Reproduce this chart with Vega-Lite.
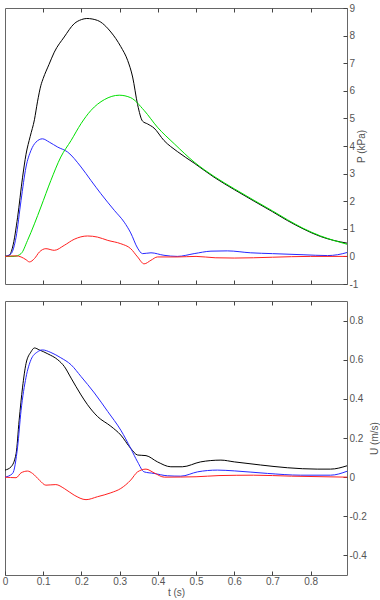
{
  "$schema": "https://vega.github.io/schema/vega-lite/v6.json",
  "padding": {"left": 1, "top": 2, "right": 0, "bottom": 0},
  "spacing": 10,
  "background": "white",
  "datasets": {
    "pressure": [
      {"t": 0, "P": 0, "s": "total"}, {"t": 0.011, "P": 0.04, "s": "total"}, {"t": 0.02, "P": 0.34, "s": "total"}, {"t": 0.033, "P": 1.42, "s": "total"}, {"t": 0.046, "P": 2.87, "s": "total"}, {"t": 0.055, "P": 3.7, "s": "total"}, {"t": 0.066, "P": 4.35, "s": "total"}, {"t": 0.077, "P": 4.95, "s": "total"}, {"t": 0.085, "P": 5.6, "s": "total"}, {"t": 0.094, "P": 6.2, "s": "total"}, {"t": 0.1, "P": 6.45, "s": "total"}, {"t": 0.115, "P": 6.95, "s": "total"}, {"t": 0.129, "P": 7.4, "s": "total"}, {"t": 0.155, "P": 7.95, "s": "total"}, {"t": 0.181, "P": 8.43, "s": "total"}, {"t": 0.2, "P": 8.58, "s": "total"}, {"t": 0.214, "P": 8.62, "s": "total"}, {"t": 0.242, "P": 8.55, "s": "total"}, {"t": 0.277, "P": 8.13, "s": "total"}, {"t": 0.303, "P": 7.6, "s": "total"}, {"t": 0.321, "P": 7.1, "s": "total"}, {"t": 0.334, "P": 6.5, "s": "total"}, {"t": 0.347, "P": 5.5, "s": "total"}, {"t": 0.36, "P": 4.9, "s": "total"}, {"t": 0.373, "P": 4.8, "s": "total"}, {"t": 0.39, "P": 4.65, "s": "total"}, {"t": 0.416, "P": 4.2, "s": "total"}, {"t": 0.451, "P": 3.8, "s": "total"}, {"t": 0.495, "P": 3.38, "s": "total"}, {"t": 0.547, "P": 2.87, "s": "total"}, {"t": 0.6, "P": 2.42, "s": "total"}, {"t": 0.652, "P": 2.0, "s": "total"}, {"t": 0.7, "P": 1.62, "s": "total"}, {"t": 0.739, "P": 1.3, "s": "total"}, {"t": 0.78, "P": 1.0, "s": "total"}, {"t": 0.826, "P": 0.72, "s": "total"}, {"t": 0.86, "P": 0.58, "s": "total"}, {"t": 0.895, "P": 0.48, "s": "total"},

      {"t": 0, "P": 0, "s": "forward"}, {"t": 0.016, "P": 0.1, "s": "forward"}, {"t": 0.029, "P": 0.7, "s": "forward"}, {"t": 0.042, "P": 2.03, "s": "forward"}, {"t": 0.055, "P": 3.24, "s": "forward"}, {"t": 0.068, "P": 3.84, "s": "forward"}, {"t": 0.081, "P": 4.14, "s": "forward"}, {"t": 0.098, "P": 4.26, "s": "forward"}, {"t": 0.116, "P": 4.14, "s": "forward"}, {"t": 0.138, "P": 3.96, "s": "forward"}, {"t": 0.164, "P": 3.78, "s": "forward"}, {"t": 0.199, "P": 3.24, "s": "forward"}, {"t": 0.225, "P": 2.75, "s": "forward"}, {"t": 0.251, "P": 2.27, "s": "forward"}, {"t": 0.286, "P": 1.67, "s": "forward"}, {"t": 0.312, "P": 1.24, "s": "forward"}, {"t": 0.329, "P": 0.85, "s": "forward"}, {"t": 0.347, "P": 0.3, "s": "forward"}, {"t": 0.36, "P": 0.1, "s": "forward"}, {"t": 0.382, "P": 0.13, "s": "forward"}, {"t": 0.416, "P": 0.04, "s": "forward"}, {"t": 0.451, "P": 0.0, "s": "forward"}, {"t": 0.495, "P": 0.1, "s": "forward"}, {"t": 0.539, "P": 0.19, "s": "forward"}, {"t": 0.582, "P": 0.2, "s": "forward"}, {"t": 0.643, "P": 0.13, "s": "forward"}, {"t": 0.7, "P": 0.1, "s": "forward"}, {"t": 0.78, "P": 0.06, "s": "forward"}, {"t": 0.844, "P": 0.03, "s": "forward"}, {"t": 0.87, "P": 0.06, "s": "forward"}, {"t": 0.895, "P": 0.14, "s": "forward"},

      {"t": 0, "P": 0, "s": "reservoir"}, {"t": 0.024, "P": 0, "s": "reservoir"}, {"t": 0.042, "P": 0.1, "s": "reservoir"}, {"t": 0.059, "P": 0.58, "s": "reservoir"}, {"t": 0.077, "P": 1.18, "s": "reservoir"}, {"t": 0.094, "P": 1.79, "s": "reservoir"}, {"t": 0.12, "P": 2.75, "s": "reservoir"}, {"t": 0.146, "P": 3.6, "s": "reservoir"}, {"t": 0.173, "P": 4.2, "s": "reservoir"}, {"t": 0.199, "P": 4.81, "s": "reservoir"}, {"t": 0.225, "P": 5.29, "s": "reservoir"}, {"t": 0.26, "P": 5.68, "s": "reservoir"}, {"t": 0.299, "P": 5.84, "s": "reservoir"}, {"t": 0.329, "P": 5.75, "s": "reservoir"}, {"t": 0.364, "P": 5.29, "s": "reservoir"}, {"t": 0.399, "P": 4.68, "s": "reservoir"}, {"t": 0.443, "P": 4.08, "s": "reservoir"}, {"t": 0.495, "P": 3.42, "s": "reservoir"}, {"t": 0.547, "P": 2.9, "s": "reservoir"}, {"t": 0.6, "P": 2.45, "s": "reservoir"}, {"t": 0.652, "P": 2.03, "s": "reservoir"}, {"t": 0.7, "P": 1.65, "s": "reservoir"}, {"t": 0.739, "P": 1.33, "s": "reservoir"}, {"t": 0.78, "P": 1.02, "s": "reservoir"}, {"t": 0.826, "P": 0.74, "s": "reservoir"}, {"t": 0.86, "P": 0.58, "s": "reservoir"}, {"t": 0.895, "P": 0.44, "s": "reservoir"},

      {"t": 0, "P": 0, "s": "backward"}, {"t": 0.029, "P": 0.02, "s": "backward"}, {"t": 0.042, "P": -0.02, "s": "backward"}, {"t": 0.055, "P": -0.12, "s": "backward"}, {"t": 0.064, "P": -0.2, "s": "backward"}, {"t": 0.077, "P": -0.08, "s": "backward"}, {"t": 0.09, "P": 0.16, "s": "backward"}, {"t": 0.107, "P": 0.28, "s": "backward"}, {"t": 0.129, "P": 0.22, "s": "backward"}, {"t": 0.155, "P": 0.4, "s": "backward"}, {"t": 0.181, "P": 0.62, "s": "backward"}, {"t": 0.216, "P": 0.74, "s": "backward"}, {"t": 0.242, "P": 0.7, "s": "backward"}, {"t": 0.269, "P": 0.58, "s": "backward"}, {"t": 0.303, "P": 0.46, "s": "backward"}, {"t": 0.329, "P": 0.28, "s": "backward"}, {"t": 0.347, "P": -0.02, "s": "backward"}, {"t": 0.364, "P": -0.27, "s": "backward"}, {"t": 0.382, "P": -0.14, "s": "backward"}, {"t": 0.399, "P": -0.02, "s": "backward"}, {"t": 0.45, "P": -0.02, "s": "backward"}, {"t": 0.5, "P": 0.0, "s": "backward"}, {"t": 0.55, "P": -0.05, "s": "backward"}, {"t": 0.6, "P": -0.06, "s": "backward"}, {"t": 0.65, "P": -0.05, "s": "backward"}, {"t": 0.7, "P": -0.03, "s": "backward"}, {"t": 0.75, "P": -0.01, "s": "backward"}, {"t": 0.8, "P": 0, "s": "backward"}, {"t": 0.895, "P": 0, "s": "backward"}
    ],
    "velocity": [
      {"t": 0, "U": 0.036, "s": "total"}, {"t": 0.016, "U": 0.053, "s": "total"}, {"t": 0.029, "U": 0.12, "s": "total"}, {"t": 0.037, "U": 0.29, "s": "total"}, {"t": 0.046, "U": 0.46, "s": "total"}, {"t": 0.055, "U": 0.58, "s": "total"}, {"t": 0.068, "U": 0.64, "s": "total"}, {"t": 0.077, "U": 0.66, "s": "total"}, {"t": 0.09, "U": 0.65, "s": "total"}, {"t": 0.112, "U": 0.63, "s": "total"}, {"t": 0.138, "U": 0.6, "s": "total"}, {"t": 0.155, "U": 0.566, "s": "total"}, {"t": 0.173, "U": 0.506, "s": "total"}, {"t": 0.199, "U": 0.42, "s": "total"}, {"t": 0.216, "U": 0.37, "s": "total"}, {"t": 0.242, "U": 0.31, "s": "total"}, {"t": 0.277, "U": 0.26, "s": "total"}, {"t": 0.303, "U": 0.215, "s": "total"}, {"t": 0.329, "U": 0.147, "s": "total"}, {"t": 0.347, "U": 0.113, "s": "total"}, {"t": 0.369, "U": 0.11, "s": "total"}, {"t": 0.399, "U": 0.078, "s": "total"}, {"t": 0.434, "U": 0.053, "s": "total"}, {"t": 0.464, "U": 0.053, "s": "total"}, {"t": 0.512, "U": 0.078, "s": "total"}, {"t": 0.565, "U": 0.087, "s": "total"}, {"t": 0.6, "U": 0.078, "s": "total"}, {"t": 0.669, "U": 0.062, "s": "total"}, {"t": 0.739, "U": 0.048, "s": "total"}, {"t": 0.817, "U": 0.041, "s": "total"}, {"t": 0.852, "U": 0.041, "s": "total"}, {"t": 0.895, "U": 0.058, "s": "total"},

      {"t": 0, "U": 0, "s": "forward"}, {"t": 0.02, "U": 0.019, "s": "forward"}, {"t": 0.033, "U": 0.155, "s": "forward"}, {"t": 0.042, "U": 0.34, "s": "forward"}, {"t": 0.055, "U": 0.51, "s": "forward"}, {"t": 0.068, "U": 0.6, "s": "forward"}, {"t": 0.085, "U": 0.64, "s": "forward"}, {"t": 0.098, "U": 0.65, "s": "forward"}, {"t": 0.12, "U": 0.637, "s": "forward"}, {"t": 0.146, "U": 0.61, "s": "forward"}, {"t": 0.173, "U": 0.574, "s": "forward"}, {"t": 0.199, "U": 0.514, "s": "forward"}, {"t": 0.234, "U": 0.43, "s": "forward"}, {"t": 0.269, "U": 0.335, "s": "forward"}, {"t": 0.303, "U": 0.24, "s": "forward"}, {"t": 0.329, "U": 0.147, "s": "forward"}, {"t": 0.347, "U": 0.078, "s": "forward"}, {"t": 0.364, "U": 0.027, "s": "forward"}, {"t": 0.39, "U": 0.019, "s": "forward"}, {"t": 0.425, "U": 0.007, "s": "forward"}, {"t": 0.46, "U": 0.005, "s": "forward"}, {"t": 0.504, "U": 0.027, "s": "forward"}, {"t": 0.556, "U": 0.036, "s": "forward"}, {"t": 0.6, "U": 0.032, "s": "forward"}, {"t": 0.687, "U": 0.019, "s": "forward"}, {"t": 0.774, "U": 0.01, "s": "forward"}, {"t": 0.852, "U": 0.01, "s": "forward"}, {"t": 0.895, "U": 0.03, "s": "forward"},

      {"t": 0, "U": 0, "s": "backward"}, {"t": 0.029, "U": -0.003, "s": "backward"}, {"t": 0.042, "U": 0.022, "s": "backward"}, {"t": 0.059, "U": 0.031, "s": "backward"}, {"t": 0.072, "U": 0.019, "s": "backward"}, {"t": 0.09, "U": -0.015, "s": "backward"}, {"t": 0.107, "U": -0.041, "s": "backward"}, {"t": 0.133, "U": -0.038, "s": "backward"}, {"t": 0.155, "U": -0.058, "s": "backward"}, {"t": 0.181, "U": -0.092, "s": "backward"}, {"t": 0.212, "U": -0.115, "s": "backward"}, {"t": 0.242, "U": -0.1, "s": "backward"}, {"t": 0.277, "U": -0.08, "s": "backward"}, {"t": 0.303, "U": -0.058, "s": "backward"}, {"t": 0.329, "U": -0.015, "s": "backward"}, {"t": 0.347, "U": 0.027, "s": "backward"}, {"t": 0.369, "U": 0.041, "s": "backward"}, {"t": 0.39, "U": 0.022, "s": "backward"}, {"t": 0.417, "U": 0, "s": "backward"}, {"t": 0.5, "U": 0.002, "s": "backward"}, {"t": 0.56, "U": 0.008, "s": "backward"}, {"t": 0.65, "U": 0.01, "s": "backward"}, {"t": 0.75, "U": 0.005, "s": "backward"}, {"t": 0.895, "U": 0, "s": "backward"}
    ]
  },
  "vconcat": [
    {
      "width": 342,
      "height": 276,
      "layer": [
        {
          "mark": {"type": "rule", "color": "#333", "strokeWidth": 1},
          "encoding": {
            "x": {"datum": 0, "type": "quantitative", "scale": {"domain": [0, 0.895], "nice": false, "zero": false},
                  "axis": {"orient": "top", "values": [0.1, 0.2, 0.3, 0.4, 0.5, 0.6, 0.7, 0.8], "labels": false, "title": null, "tickSize": -4, "domain": false, "grid": false}},
            "x2": {"datum": 0.895},
            "y": {"datum": 0, "type": "quantitative",
                  "axis": {"orient": "right", "values": [-1, 0, 1, 2, 3, 4, 5, 6, 7, 8, 9], "labelExpr": "datum.value + ''", "labelOverlap": false, "labelFlush": false, "labelSeparation": -20, "title": "P (kPa)", "titleAngle": 270, "titleX": 14, "titleBaseline": "middle", "tickSize": -4, "labelPadding": 6, "domain": false, "grid": false}}
          }
        },
        {
          "data": {"name": "pressure"},
          "mark": {"type": "line", "strokeWidth": 1, "interpolate": "monotone"},
          "encoding": {
            "x": {"field": "t", "type": "quantitative",
                  "axis": {"orient": "bottom", "values": [0.1, 0.2, 0.3, 0.4, 0.5, 0.6, 0.7, 0.8], "labels": false, "title": null, "tickSize": -4, "domain": false, "grid": false}},
            "y": {"field": "P", "type": "quantitative", "scale": {"domain": [-1, 9], "nice": false, "zero": false},
                  "axis": {"orient": "right", "values": [-1, 0, 1, 2, 3, 4, 5, 6, 7, 8, 9], "labelExpr": "datum.value + ''", "labelOverlap": false, "labelFlush": false, "labelSeparation": -20, "title": "P (kPa)", "titleAngle": 270, "titleX": 14, "titleBaseline": "middle", "tickSize": -4, "labelPadding": 6, "domain": false, "grid": false}},
            "color": {"field": "s", "type": "nominal", "legend": null,
                      "scale": {"domain": ["total", "forward", "reservoir", "backward"], "range": ["#000000", "#2828ff", "#00e000", "#ff2020"]}},
            "order": {"field": "t"}
          }
        }
      ],
      "resolve": {"axis": {"x": "independent"}}
    },
    {
      "width": 342,
      "height": 274,
      "layer": [
        {
          "mark": {"type": "rule", "color": "#000", "strokeWidth": 1},
          "encoding": {
            "x": {"datum": 0, "type": "quantitative", "scale": {"domain": [0, 0.895], "nice": false, "zero": false},
                  "axis": {"orient": "top", "values": [0.1, 0.2, 0.3, 0.4, 0.5, 0.6, 0.7, 0.8], "labels": false, "title": null, "tickSize": -4, "domain": false, "grid": false}},
            "x2": {"datum": 0.895},
            "y": {"datum": 0, "type": "quantitative",
                  "axis": {"orient": "right", "values": [-0.4, -0.2, 0, 0.2, 0.4, 0.6, 0.8], "labelExpr": "datum.value + ''", "labelOverlap": false, "labelFlush": false, "title": "U (m/s)", "titleAngle": 270, "titleX": 27, "titleBaseline": "middle", "tickSize": -4, "labelPadding": 6, "domain": false, "grid": false}}
          }
        },
        {
          "data": {"name": "velocity"},
          "mark": {"type": "line", "strokeWidth": 1, "interpolate": "monotone"},
          "encoding": {
            "x": {"field": "t", "type": "quantitative",
                  "axis": {"orient": "bottom", "values": [0, 0.1, 0.2, 0.3, 0.4, 0.5, 0.6, 0.7, 0.8], "labelExpr": "datum.value + ''", "labelOverlap": false, "labelFlush": false, "title": "t (s)", "tickSize": -4, "labelPadding": 5, "titlePadding": 1, "domain": false, "grid": false}},
            "y": {"field": "U", "type": "quantitative", "scale": {"domain": [-0.5, 0.9], "nice": false, "zero": false},
                  "axis": {"orient": "right", "values": [-0.4, -0.2, 0, 0.2, 0.4, 0.6, 0.8], "labelExpr": "datum.value + ''", "labelOverlap": false, "labelFlush": false, "title": "U (m/s)", "titleAngle": 270, "titleX": 27, "titleBaseline": "middle", "tickSize": -4, "labelPadding": 6, "domain": false, "grid": false}},
            "color": {"field": "s", "type": "nominal", "legend": null,
                      "scale": {"domain": ["total", "forward", "backward"], "range": ["#000000", "#2828ff", "#ff2020"]}},
            "order": {"field": "t"}
          }
        }
      ],
      "resolve": {"axis": {"x": "independent"}}
    }
  ],
  "resolve": {"scale": {"color": "independent"}},
  "config": {
    "view": {"stroke": "#666666", "strokeWidth": 1},
    "axis": {
      "labelFont": "Liberation Sans",
      "titleFont": "Liberation Sans",
      "labelFontSize": 10,
      "titleFontSize": 10,
      "titleFontWeight": "normal",
      "labelColor": "#555555",
      "titleColor": "#555555",
      "tickColor": "#444444",
      "tickWidth": 1,
      "labelFlush": false,
      "labelOverlap": false
    },
    "axisY": {"labelOverlap": false}
  }
}
